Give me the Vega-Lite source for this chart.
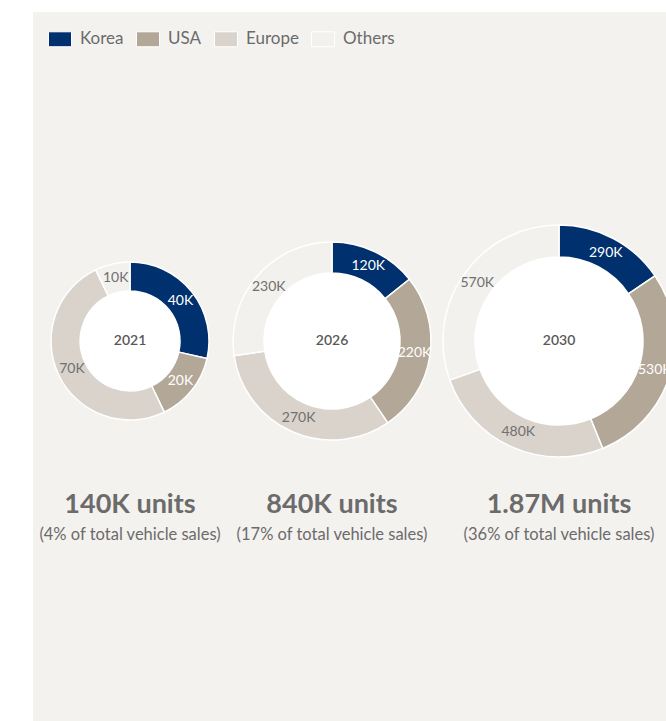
{
  "$schema": "https://vega.github.io/schema/vega-lite/v6.json",
  "autosize": {"type": "none"},
  "width": 633,
  "height": 709,
  "padding": {"left": 33, "top": 12, "right": 0, "bottom": 0},
  "background": "white",
  "config": {
    "view": {"fill": "#f4f2ef", "stroke": null},
    "font": "Lato",
    "text": {"font": "Lato"},
    "legend": {"labelFont": "Lato"}
  },
  "datasets": {
    "segments": [
      {"year": 2021, "region": "Korea", "k": 1, "value": 40, "label": "40K"},
      {"year": 2021, "region": "USA", "k": 2, "value": 20, "label": "20K"},
      {"year": 2021, "region": "Europe", "k": 3, "value": 70, "label": "70K"},
      {"year": 2021, "region": "Others", "k": 4, "value": 10, "label": "10K"},
      {"year": 2026, "region": "Korea", "k": 1, "value": 120, "label": "120K"},
      {"year": 2026, "region": "USA", "k": 2, "value": 220, "label": "220K"},
      {"year": 2026, "region": "Europe", "k": 3, "value": 270, "label": "270K"},
      {"year": 2026, "region": "Others", "k": 4, "value": 230, "label": "230K"},
      {"year": 2030, "region": "Korea", "k": 1, "value": 290, "label": "290K"},
      {"year": 2030, "region": "USA", "k": 2, "value": 530, "label": "530K"},
      {"year": 2030, "region": "Europe", "k": 3, "value": 480, "label": "480K"},
      {"year": 2030, "region": "Others", "k": 4, "value": 570, "label": "570K"}
    ],
    "totals": [
      {"year": 2021, "total": "140K units", "share": "(4% of total vehicle sales)"},
      {"year": 2026, "total": "840K units", "share": "(17% of total vehicle sales)"},
      {"year": 2030, "total": "1.87M units", "share": "(36% of total vehicle sales)"}
    ]
  },
  "encoding": {
    "x": {
      "field": "year",
      "type": "quantitative",
      "bin": "binned",
      "scale": {"domain": [2021, 2026, 2030], "range": [97, 299, 526], "nice": false, "zero": false},
      "axis": null
    },
    "y": {"value": 329}
  },
  "layer": [
    {
      "data": {"name": "totals"},
      "transform": [{"filter": "datum.year == 2021"}],
      "mark": {"type": "arc", "theta": 0, "theta2": 6.2832, "outerRadius": 50, "innerRadius": 0, "fill": "white"}
    },
    {
      "data": {"name": "totals"},
      "transform": [{"filter": "datum.year == 2026"}],
      "mark": {"type": "arc", "theta": 0, "theta2": 6.2832, "outerRadius": 68, "innerRadius": 0, "fill": "white"}
    },
    {
      "data": {"name": "totals"},
      "transform": [{"filter": "datum.year == 2030"}],
      "mark": {"type": "arc", "theta": 0, "theta2": 6.2832, "outerRadius": 84, "innerRadius": 0, "fill": "white"}
    },
    {
      "data": {"name": "segments"},
      "transform": [{"filter": "datum.year == 2021"}],
      "mark": {"type": "arc", "outerRadius": 79, "innerRadius": 50, "stroke": "white", "strokeWidth": 1.5},
      "encoding": {
        "theta": {"field": "value", "type": "quantitative", "stack": "normalize"},
        "order": {"field": "k", "type": "quantitative"},
        "color": {
          "field": "region", "type": "nominal",
          "scale": {"domain": ["Korea", "USA", "Europe", "Others"], "range": ["#00306e", "#b3a797", "#d9d3cc", "#f3f1ee"]},
          "legend": {
            "title": null, "orient": "none", "direction": "horizontal", "legendX": 15, "legendY": 15,
            "labelFontSize": 17, "labelColor": "#6b6b6b", "labelOffset": 8, "columnPadding": 10,
            "symbolType": "M-1,-0.65L1,-0.65L1,0.65L-1,0.65Z", "symbolSize": 529,
            "symbolStrokeColor": "#d6d1cb", "symbolStrokeWidth": 1, "symbolOpacity": 1
          }
        }
      }
    },
    {
      "data": {"name": "segments"},
      "transform": [{"filter": "datum.year == 2026"}],
      "mark": {"type": "arc", "outerRadius": 99, "innerRadius": 68, "stroke": "white", "strokeWidth": 1.5},
      "encoding": {
        "theta": {"field": "value", "type": "quantitative", "stack": "normalize"},
        "order": {"field": "k", "type": "quantitative"},
        "color": {"field": "region", "type": "nominal"}
      }
    },
    {
      "data": {"name": "segments"},
      "transform": [{"filter": "datum.year == 2030"}],
      "mark": {"type": "arc", "outerRadius": 116, "innerRadius": 84, "stroke": "white", "strokeWidth": 1.5},
      "encoding": {
        "theta": {"field": "value", "type": "quantitative", "stack": "normalize"},
        "order": {"field": "k", "type": "quantitative"},
        "color": {"field": "region", "type": "nominal"}
      }
    },
    {
      "data": {"name": "segments"},
      "transform": [{"filter": "datum.year == 2021"}],
      "mark": {"type": "text", "radius": 64.5, "fontSize": 14},
      "encoding": {
        "theta": {"field": "value", "type": "quantitative", "stack": "normalize"},
        "order": {"field": "k", "type": "quantitative"},
        "text": {"field": "label", "type": "nominal"},
        "color": {"condition": {"test": "datum.region == 'Korea' || datum.region == 'USA'", "value": "white"}, "value": "#707070"}
      }
    },
    {
      "data": {"name": "segments"},
      "transform": [{"filter": "datum.year == 2026"}],
      "mark": {"type": "text", "radius": 83.5, "fontSize": 14},
      "encoding": {
        "theta": {"field": "value", "type": "quantitative", "stack": "normalize"},
        "order": {"field": "k", "type": "quantitative"},
        "text": {"field": "label", "type": "nominal"},
        "color": {"condition": {"test": "datum.region == 'Korea' || datum.region == 'USA'", "value": "white"}, "value": "#707070"}
      }
    },
    {
      "data": {"name": "segments"},
      "transform": [{"filter": "datum.year == 2030"}],
      "mark": {"type": "text", "radius": 100, "fontSize": 14},
      "encoding": {
        "theta": {"field": "value", "type": "quantitative", "stack": "normalize"},
        "order": {"field": "k", "type": "quantitative"},
        "text": {"field": "label", "type": "nominal"},
        "color": {"condition": {"test": "datum.region == 'Korea' || datum.region == 'USA'", "value": "white"}, "value": "#707070"}
      }
    },
    {
      "data": {"name": "totals"},
      "mark": {"type": "text", "fontSize": 14, "fontWeight": 600, "color": "#585858"},
      "encoding": {"text": {"field": "year", "type": "nominal"}}
    },
    {
      "data": {"name": "totals"},
      "mark": {"type": "text", "fontSize": 27, "fontWeight": "bold", "color": "#6b6b6b"},
      "encoding": {"y": {"value": 493}, "text": {"field": "total", "type": "nominal"}}
    },
    {
      "data": {"name": "totals"},
      "mark": {"type": "text", "fontSize": 16.5, "color": "#6b6b6b"},
      "encoding": {"y": {"value": 523}, "text": {"field": "share", "type": "nominal"}}
    }
  ]
}
